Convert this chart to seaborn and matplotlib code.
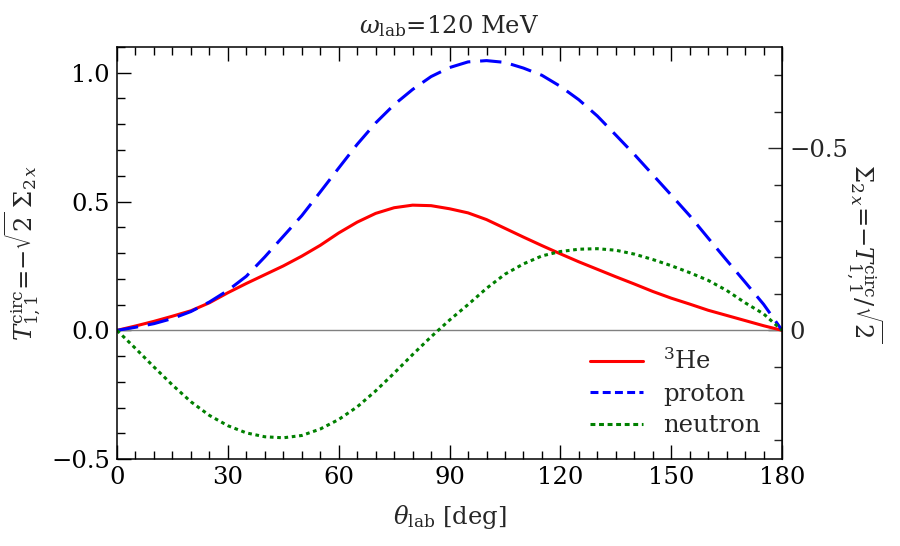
import numpy as np
import matplotlib
matplotlib.use("Agg")
import matplotlib.pyplot as plt
from matplotlib.lines import Line2D
from matplotlib.ticker import MultipleLocator
import seaborn as sns

# theta_lab in degrees
theta = [0, 5, 10, 15, 20, 25, 30, 35, 40, 45, 50, 55, 60, 65, 70, 75, 80, 85, 90,
         95, 100, 105, 110, 115, 120, 125, 130, 135, 140, 145, 150, 155, 160, 165,
         170, 175, 180]

he3 = [0.0, 0.017, 0.035, 0.055, 0.076, 0.107, 0.146, 0.182, 0.216, 0.250, 0.288,
       0.330, 0.378, 0.420, 0.454, 0.476, 0.486, 0.484, 0.472, 0.456, 0.430, 0.396,
       0.362, 0.329, 0.297, 0.266, 0.237, 0.208, 0.180, 0.151, 0.125, 0.102, 0.078,
       0.058, 0.038, 0.018, 0.0]

proton = [0.0, 0.012, 0.026, 0.046, 0.073, 0.110, 0.155, 0.210, 0.285, 0.365, 0.445,
          0.537, 0.630, 0.722, 0.805, 0.876, 0.935, 0.985, 1.020, 1.042, 1.047, 1.040,
          1.018, 0.990, 0.947, 0.895, 0.832, 0.758, 0.683, 0.604, 0.525, 0.445, 0.358,
          0.272, 0.187, 0.101, 0.0]

neutron = [0.0, -0.070, -0.142, -0.212, -0.277, -0.330, -0.370, -0.398, -0.413, -0.417,
           -0.408, -0.383, -0.346, -0.297, -0.235, -0.166, -0.094, -0.025, 0.040, 0.100,
           0.163, 0.218, 0.258, 0.289, 0.306, 0.315, 0.317, 0.311, 0.296, 0.275, 0.251,
           0.224, 0.194, 0.155, 0.107, 0.064, 0.0]

sns.set_style("ticks")
plt.rcParams["font.family"] = ["DejaVu Serif"]
plt.rcParams["mathtext.fontset"] = "dejavuserif"
fs = 17.5
plt.rcParams["font.size"] = fs

fig = plt.figure(figsize=(9, 5.46), dpi=100)
ax = fig.add_axes([0.13, 0.159, 0.739, 0.755])

ax.axhline(0, color="gray", lw=1, zorder=1)
lw = 2.2
sns.lineplot(x=theta, y=he3, ax=ax, color="red", lw=lw, sort=False)
sns.lineplot(x=theta, y=proton, ax=ax, color="blue", lw=lw, sort=False,
             linestyle=(0, (7, 3.2)))
sns.lineplot(x=theta, y=neutron, ax=ax, color="green", lw=lw, sort=False,
             linestyle=(0, (1.2, 1.2)))

ax.set_xlim(0, 180)
ax.set_ylim(-0.5, 1.1)
ax.xaxis.set_major_locator(MultipleLocator(30))
ax.xaxis.set_minor_locator(MultipleLocator(5))
ax.yaxis.set_major_locator(MultipleLocator(0.5))
ax.yaxis.set_minor_locator(MultipleLocator(0.1))
ax.tick_params(which="both", direction="in", top=True, right=False, width=1, colors="black")
ax.tick_params(which="major", length=10, labelsize=fs, pad=5)
ax.tick_params(which="minor", length=5.5)
for s in ax.spines.values():
    s.set_linewidth(1.1)
    s.set_color("black")

ax.set_xlabel(r"$\theta_{\rm lab}$ [deg]", fontsize=fs, labelpad=10)
ax.set_ylabel(r"$T^{\rm circ}_{1,1}$=$-\sqrt{2}\;\Sigma_{2\,x}$", fontsize=fs, labelpad=6)
ax.set_title(r"$\omega_{\rm lab}$=120 MeV", fontsize=fs, pad=10)

sec = ax.secondary_yaxis("right", functions=(lambda y: -y / np.sqrt(2),
                                              lambda s: -s * np.sqrt(2)))
sec.yaxis.set_major_locator(MultipleLocator(0.5))
sec.yaxis.set_minor_locator(MultipleLocator(0.1))
sec.yaxis.set_major_formatter(plt.FuncFormatter(
    lambda v, p: "0" if abs(v) < 1e-9 else f"{v:.1f}".replace("-", "\u2212")))
sec.tick_params(which="both", direction="in", width=1)
sec.tick_params(which="major", length=10, labelsize=fs, pad=5)
sec.tick_params(which="minor", length=5.5)
sec.set_ylabel(r"$\Sigma_{2\,x}$=$-T^{\rm circ}_{1,1}/\sqrt{2}$", fontsize=fs,
               rotation=270, labelpad=26)

handles = [
    Line2D([], [], color="red", lw=lw),
    Line2D([], [], color="blue", lw=lw, linestyle=(0, (2.6, 1.4))),
    Line2D([], [], color="green", lw=lw, linestyle=(0, (1.6, 1.2))),
]
ax.legend(handles, [r"$^3$He", "proton", "neutron"], loc="lower right",
          bbox_to_anchor=(1.0, 0.0), frameon=False, fontsize=fs,
          handlelength=2.2, labelspacing=0.35, handletextpad=0.8)

fig.savefig("out.png", dpi=100)
